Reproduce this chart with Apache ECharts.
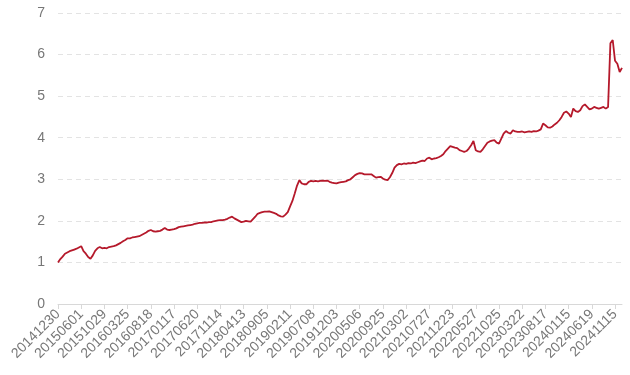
<!DOCTYPE html>
<html>
<head>
<meta charset="utf-8">
<script src="https://cdn.jsdelivr.net/npm/echarts@6/dist/echarts.min.js"></script>
<style>
html,body{margin:0;padding:0;background:#fff;}
#chart{width:630px;height:375px;}
</style>
</head>
<body>
<div id="chart"></div>
<script>
// Tick labels shown on the x axis (every 10th sampled point)
var tickLabels = ['20141230','20150601','20151029','20160325','20160818','20170117','20170620','20171114','20180413','20180905','20190211','20190708','20191203','20200506','20200925','20210302','20210727','20211223','20220527','20221025','20230322','20230817','20240115','20240619','20241115'];

// Net value, sampled roughly every 10 trading days
var netValue = [
1.00,1.08,1.14,1.21,1.24,1.27,1.29,1.31,1.33,1.36,
1.39,1.27,1.21,1.13,1.09,1.17,1.28,1.34,1.37,1.34,
1.35,1.34,1.37,1.38,1.39,1.41,1.44,1.47,1.51,1.54,
1.58,1.58,1.60,1.61,1.62,1.63,1.66,1.69,1.72,1.76,
1.78,1.75,1.74,1.75,1.76,1.79,1.83,1.79,1.78,1.79,
1.80,1.82,1.85,1.86,1.87,1.88,1.89,1.90,1.91,1.93,
1.94,1.95,1.95,1.96,1.96,1.97,1.97,1.99,2.00,2.01,
2.02,2.02,2.03,2.05,2.08,2.10,2.06,2.03,2.00,1.97,
1.98,2.00,1.99,1.98,2.04,2.10,2.17,2.19,2.21,2.22,
2.22,2.23,2.21,2.19,2.17,2.13,2.11,2.10,2.15,2.21,
2.35,2.48,2.66,2.85,2.98,2.90,2.88,2.88,2.94,2.96,
2.95,2.96,2.95,2.96,2.97,2.96,2.97,2.94,2.92,2.91,
2.90,2.92,2.93,2.94,2.95,2.98,3.00,3.05,3.10,3.13,
3.15,3.14,3.12,3.12,3.12,3.12,3.08,3.04,3.05,3.06,
3.02,2.99,2.98,3.05,3.15,3.28,3.34,3.37,3.36,3.38,
3.37,3.39,3.38,3.40,3.39,3.41,3.43,3.45,3.44,3.50,
3.52,3.48,3.50,3.51,3.53,3.56,3.60,3.68,3.74,3.80,
3.78,3.76,3.75,3.70,3.68,3.66,3.68,3.74,3.82,3.92,
3.70,3.67,3.66,3.72,3.80,3.88,3.91,3.93,3.94,3.88,
3.86,3.98,4.10,4.16,4.12,4.10,4.18,4.15,4.14,4.14,
4.15,4.13,4.14,4.15,4.14,4.16,4.15,4.17,4.20,4.34,
4.30,4.25,4.24,4.27,4.32,4.36,4.42,4.50,4.60,4.63,
4.58,4.50,4.70,4.64,4.62,4.66,4.76,4.80,4.74,4.68,
4.70,4.74,4.72,4.70,4.72,4.74,4.70,4.74,6.27,6.35,
5.85,5.78,5.58,5.68
];

// Category names: shown ticks from tickLabels, hidden in-between points get a suffix
var categories = [];
for (var i = 0; i < netValue.length; i++) {
  var base = tickLabels[Math.floor(i / 10)] || tickLabels[tickLabels.length - 1];
  categories.push(i % 10 === 0 ? base : base + '_' + (i % 10));
}

var chart = echarts.init(document.getElementById('chart'), null, {renderer: 'canvas'});
chart.setOption({
  animation: false,
  backgroundColor: '#fff',
  grid: {left: 58, right: 8, top: 13, bottom: 71, containLabel: false},
  xAxis: {
    type: 'category',
    data: categories,
    boundaryGap: false,
    axisLine: {show: true, lineStyle: {color: '#d8d8d8', width: 1}},
    axisTick: {show: true, interval: 9, length: 5, lineStyle: {color: '#d8d8d8'}},
    axisLabel: {
      interval: 9,
      rotate: 45,
      margin: 8,
      color: '#777',
      fontSize: 14,
      fontFamily: 'Liberation Sans, Arial, sans-serif'
    },
    splitLine: {show: false}
  },
  yAxis: {
    type: 'value',
    min: 0,
    max: 7,
    interval: 1,
    axisLine: {show: false},
    axisTick: {show: false},
    axisLabel: {
      margin: 13,
      color: '#777',
      fontSize: 14,
      fontFamily: 'Liberation Sans, Arial, sans-serif'
    },
    splitLine: {show: true, lineStyle: {color: '#e3e3e3', type: [5, 4], width: 1}}
  },
  series: [{
    type: 'line',
    data: netValue,
    showSymbol: false,
    symbol: 'none',
    lineStyle: {color: '#b5192b', width: 1.8},
    itemStyle: {color: '#b5192b'}
  }]
});
</script>
</body>
</html>
